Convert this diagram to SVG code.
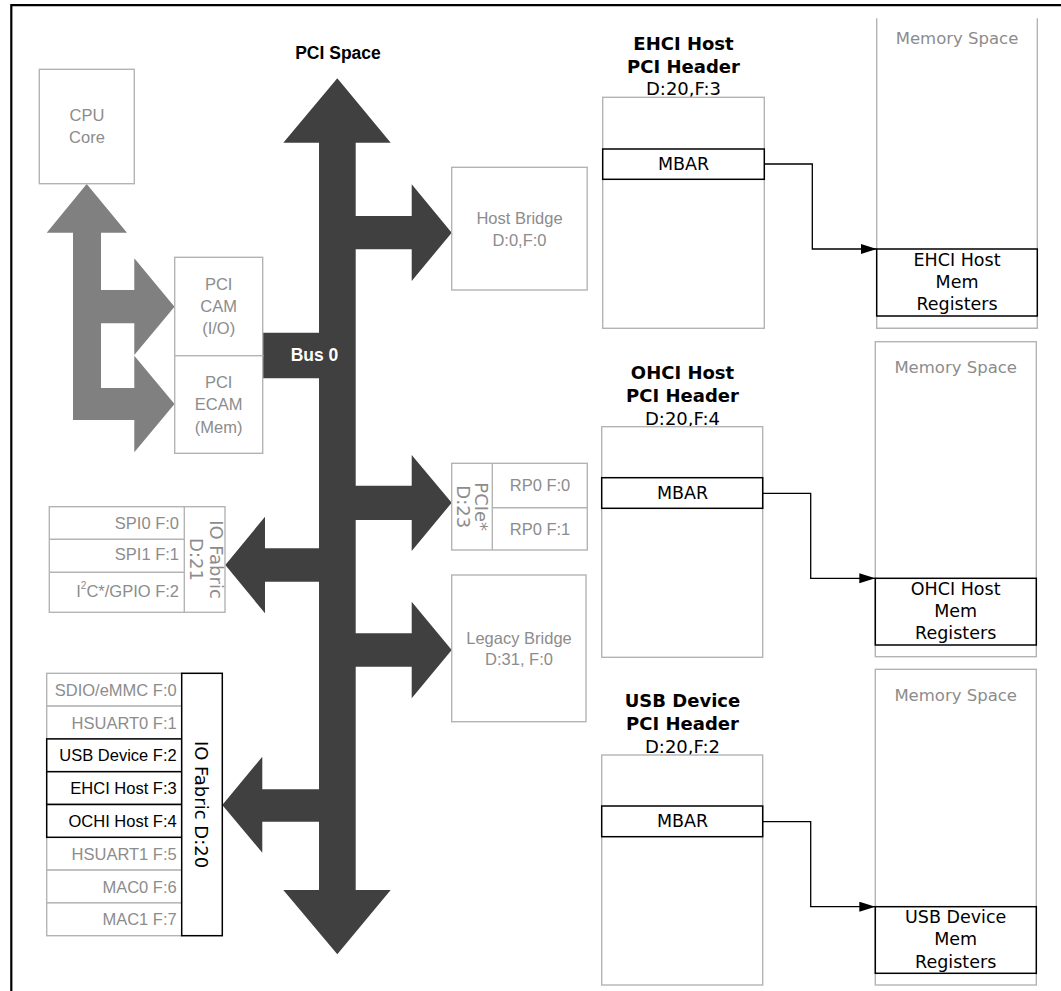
<svg xmlns="http://www.w3.org/2000/svg" width="1061" height="991" viewBox="0 0 1061 991">
<style>
.bg{fill:#fff}
.frame{fill:none;stroke:#000;stroke-width:2.2}
.gbox{fill:#fff;stroke:#b4b4b4;stroke-width:1.4}
.gline{fill:none;stroke:#b4b4b4;stroke-width:1.4}
.kbox{fill:#fff;stroke:#000;stroke-width:1.5}
.gt{font-family:"Liberation Sans",Arial,sans-serif;font-size:16.5px;fill:#8c8c8c;text-anchor:middle;dominant-baseline:central}
.gr{font-family:"Liberation Sans",Arial,sans-serif;font-size:16.5px;fill:#8c8c8c;text-anchor:end;dominant-baseline:central}
.kr{font-family:"Liberation Sans",Arial,sans-serif;font-size:16.5px;fill:#000;text-anchor:end;dominant-baseline:central}
.rot{font-family:"DejaVu Sans",Verdana,sans-serif;font-size:18px;text-anchor:middle;dominant-baseline:central}
.hb{font-family:"DejaVu Sans",Verdana,sans-serif;font-size:18px;font-weight:bold;fill:#000;text-anchor:middle;dominant-baseline:central}
.hn{font-family:"DejaVu Sans",Verdana,sans-serif;font-size:18px;fill:#000;text-anchor:middle;dominant-baseline:central}
.mt{font-family:"DejaVu Sans",Verdana,sans-serif;font-size:17.5px;fill:#000;text-anchor:middle;dominant-baseline:central}
.ms{font-family:"DejaVu Sans",Verdana,sans-serif;font-size:16.5px;fill:#8c8c8c;text-anchor:middle;dominant-baseline:central}
.bold{font-family:"Liberation Sans",Arial,sans-serif;font-size:17.5px;font-weight:bold;text-anchor:middle;dominant-baseline:central}
.conn{fill:none;stroke:#000;stroke-width:1.3}
</style>
<defs>
<marker id="arr" markerUnits="userSpaceOnUse" markerWidth="17" markerHeight="11" refX="16" refY="5" orient="auto">
<path d="M0,0 L16,5 L0,10 Z" fill="#000"/>
</marker>
</defs>
<rect class="bg" x="0" y="0" width="1061" height="991"/>
<path class="frame" d="M11.3,991 L11.3,5.2 L1061,5.2"/>

<g id="title-pci-space">
<text class="bold" x="338" y="53.3" fill="#000">PCI Space</text>
</g>

<g id="cpu-arrow">
<path fill="#808080" d="M86.7,184 L127,232.7 L101,232.7 L101,290 L134.3,290 L134.3,258.3 L174.5,306.7 L134.3,355 L134.3,323.3 L101,323.3 L101,388 L134.3,388 L134.3,355.7 L174.5,404 L134.3,452.3 L134.3,420 L73,420 L73,232.7 L46.7,232.7 Z"/>
</g>

<g id="bus0">
<path fill="#404040" d="M337.3,78.3 L390.7,142.7 L355.7,142.7 L355.7,216 L411.7,216 L411.7,184.3 L451.7,232.7 L411.7,281 L411.7,249.3 L355.7,249.3 L355.7,485.7 L411.7,485.7 L411.7,455 L451.7,502.7 L411.7,551 L411.7,520 L355.7,520 L355.7,633.3 L411.7,633.3 L411.7,601.7 L451.7,650 L411.7,698.3 L411.7,666.7 L355.7,666.7 L355.7,890 L390.7,890 L337.3,954.3 L283.3,890 L319,890 L319,821.7 L262.3,821.7 L262.3,852.7 L222.3,805 L262.3,756.7 L262.3,789.3 L319,789.3 L319,581.7 L265,581.7 L265,613.3 L225.3,565 L265,516.7 L265,548.3 L319,548.3 L319,378.3 L262.7,378.3 L262.7,332.7 L319,332.7 L319,142.7 L283.3,142.7 Z"/>
<text class="bold" x="314.5" y="354.5" fill="#fff">Bus 0</text>
</g>

<g id="cpu-core">
<rect class="gbox" x="39.3" y="69.3" width="95" height="114.4"/>
<text class="gt" x="87" y="115">CPU</text>
<text class="gt" x="87" y="137">Core</text>
</g>

<g id="pci-cam">
<rect class="gbox" x="174.7" y="257.3" width="88" height="98.4"/>
<text class="gt" x="218.7" y="284">PCI</text>
<text class="gt" x="218.7" y="306">CAM</text>
<text class="gt" x="218.7" y="328">(I/O)</text>
</g>

<g id="pci-ecam">
<rect class="gbox" x="174.7" y="355.7" width="88" height="97.6"/>
<text class="gt" x="218.7" y="381.7">PCI</text>
<text class="gt" x="218.7" y="404">ECAM</text>
<text class="gt" x="218.7" y="426.7">(Mem)</text>
</g>

<g id="host-bridge">
<rect class="gbox" x="451.7" y="167.3" width="135.5" height="122.7"/>
<text class="gt" x="519.5" y="218.3">Host Bridge</text>
<text class="gt" x="519.5" y="239.5">D:0,F:0</text>
</g>

<g id="pcie">
<rect class="gbox" x="451.7" y="463.3" width="135.6" height="86.7"/>
<path class="gline" d="M492.3,463.3 V550 M492.3,507.7 H587.3"/>
<text class="rot" fill="#8c8c8c" transform="translate(481.7,506.7) rotate(90)">PCIe*</text>
<text class="rot" fill="#8c8c8c" transform="translate(463.3,506.7) rotate(90)">D:23</text>
<text class="gt" x="540" y="485">RP0 F:0</text>
<text class="gt" x="540" y="529.3">RP0 F:1</text>
</g>

<g id="legacy-bridge">
<rect class="gbox" x="451.7" y="575" width="134.3" height="146.7"/>
<text class="gt" x="519" y="637.7">Legacy Bridge</text>
<text class="gt" x="519" y="659.3">D:31, F:0</text>
</g>

<g id="io-fabric-d21">
<rect class="gbox" x="49.3" y="506.7" width="175.7" height="105.6"/>
<path class="gline" d="M184.3,506.7 V612.3 M49.3,539.3 H184.3 M49.3,572.3 H184.3"/>
<text class="gr" x="179" y="522.7">SPI0 F:0</text>
<text class="gr" x="179" y="554">SPI1 F:1</text>
<text class="gr" x="179" y="591">I<tspan font-size="10" dy="-6">2</tspan><tspan dy="6">C*/GPIO F:2</tspan></text>
<text class="rot" fill="#8c8c8c" transform="translate(216,559.5) rotate(90)">IO Fabric</text>
<text class="rot" fill="#8c8c8c" transform="translate(196.7,559.5) rotate(90)">D:21</text>
</g>

<g id="io-fabric-d20">
<rect class="gbox" x="46.7" y="673.3" width="135" height="32.8"/>
<rect class="gbox" x="46.7" y="706.1" width="135" height="32.8"/>
<rect class="gbox" x="46.7" y="837.3" width="135" height="32.8"/>
<rect class="gbox" x="46.7" y="870.1" width="135" height="32.8"/>
<rect class="gbox" x="46.7" y="902.9" width="135" height="32.8"/>
<rect class="kbox" x="46.7" y="738.9" width="135" height="32.8"/>
<rect class="kbox" x="46.7" y="771.7" width="135" height="32.8"/>
<rect class="kbox" x="46.7" y="804.5" width="135" height="32.8"/>
<rect class="kbox" x="181.7" y="673.3" width="40.6" height="262.4"/>
<text class="gr" x="176.7" y="689.7">SDIO/eMMC F:0</text>
<text class="gr" x="176.7" y="722.5">HSUART0 F:1</text>
<text class="kr" x="176.7" y="755.3">USB Device F:2</text>
<text class="kr" x="176.7" y="788.1">EHCI Host F:3</text>
<text class="kr" x="176.7" y="820.9">OCHI Host F:4</text>
<text class="gr" x="176.7" y="853.7">HSUART1 F:5</text>
<text class="gr" x="176.7" y="886.5">MAC0 F:6</text>
<text class="gr" x="176.7" y="919.3">MAC1 F:7</text>
<text class="rot" fill="#000" transform="translate(201.7,804.5) rotate(90)">IO Fabric D:20</text>
</g>

<g id="ehci-header">
<text class="hb" x="683.5" y="43">EHCI Host</text>
<text class="hb" x="683.5" y="66">PCI Header</text>
<text class="hn" x="683.5" y="88.5">D:20,F:3</text>
<rect class="gbox" x="602.7" y="97.3" width="161.6" height="231"/>
<rect class="kbox" x="602.7" y="149" width="161.6" height="30.3"/>
<text class="mt" x="683.5" y="163.5">MBAR</text>
</g>

<g id="ehci-memory">
<path class="gline" d="M876.7,18.3 V328.3 H1037.3 V18.3"/>
<text class="ms" x="957" y="38">Memory Space</text>
<rect class="kbox" x="876.7" y="249" width="160.6" height="67"/>
<text class="mt" x="957" y="259.5">EHCI Host</text>
<text class="mt" x="957" y="281.7">Mem</text>
<text class="mt" x="957" y="304.3">Registers</text>
</g>

<g id="ohci-header">
<text class="hb" x="682.5" y="372.3">OHCI Host</text>
<text class="hb" x="682.5" y="395">PCI Header</text>
<text class="hn" x="682.5" y="418">D:20,F:4</text>
<rect class="gbox" x="601.7" y="426.7" width="161" height="230.6"/>
<rect class="kbox" x="601.7" y="477.7" width="161" height="30.6"/>
<text class="mt" x="682.5" y="492.5">MBAR</text>
</g>

<g id="ohci-memory">
<rect class="gbox" x="875.3" y="341.7" width="161" height="315"/>
<text class="ms" x="955.7" y="367.3">Memory Space</text>
<rect class="kbox" x="875.3" y="578.3" width="161" height="66.7"/>
<text class="mt" x="955.7" y="588.5">OHCI Host</text>
<text class="mt" x="955.7" y="610.7">Mem</text>
<text class="mt" x="955.7" y="633">Registers</text>
</g>

<g id="usb-header">
<text class="hb" x="682.5" y="700.7">USB Device</text>
<text class="hb" x="682.5" y="723.3">PCI Header</text>
<text class="hn" x="682.5" y="746.5">D:20,F:2</text>
<rect class="gbox" x="601.7" y="755" width="161" height="230"/>
<rect class="kbox" x="601.7" y="806" width="161" height="30.7"/>
<text class="mt" x="682.5" y="820.8">MBAR</text>
</g>

<g id="usb-memory">
<rect class="gbox" x="875.3" y="669.3" width="161" height="315.7"/>
<text class="ms" x="955.7" y="695.7">Memory Space</text>
<rect class="kbox" x="875.3" y="906.7" width="161" height="66.6"/>
<text class="mt" x="955.7" y="916.9">USB Device</text>
<text class="mt" x="955.7" y="939">Mem</text>
<text class="mt" x="955.7" y="961.7">Registers</text>
</g>

<g id="connectors">
<path class="conn" marker-end="url(#arr)" d="M764.3,164 H812.3 V249 H876.7"/>
<path class="conn" marker-end="url(#arr)" d="M762.7,493.3 H810.7 V578.3 H875.3"/>
<path class="conn" marker-end="url(#arr)" d="M762.7,821.7 H810.7 V906.7 H875.3"/>
</g>
</svg>
